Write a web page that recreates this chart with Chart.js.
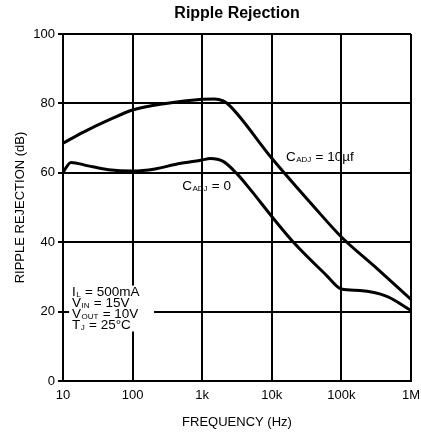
<!DOCTYPE html>
<html lang="en">

<head>
    <meta charset="UTF-8">
    <title>Ripple Rejection</title>
    <script src="https://cdn.jsdelivr.net/npm/chart.js"></script>
    <style>
        body { margin: 0; background: #fff; }
        #wrap { width: 421px; height: 435px; }
    </style>
</head>

<body>
    <div id="wrap">
        <canvas id="ripple" width="421" height="435"></canvas>
    </div>

    <script>
        // frequency ticks on the log axis and their labels
        var freqTicks = [10, 100, 1000, 10000, 100000, 1000000];
        var freqLabels = ['10', '100', '1k', '10k', '100k', '1M'];

        // C_ADJ = 10uF curve
        var freqAdj10 = [10, 20, 50, 100, 300, 1000, 1500, 2000, 2500, 10000, 40000, 100000, 300000, 1000000];
        var rejAdj10 = [68.5, 71.8, 75.6, 78.1, 80.0, 81.2, 81.3, 80.7, 79.3, 64.2, 50.3, 41.5, 33.0, 23.5];

        // C_ADJ = 0 curve
        var freqAdj0 = [10, 13, 23, 45, 100, 210, 450, 1000, 1300, 2000, 3100, 5000, 10000, 20000, 60000, 100000, 185000, 450000, 1000000];
        var rejAdj0 = [60.1, 63.0, 62.0, 60.9, 60.5, 61.1, 62.6, 63.7, 64.1, 63.3, 59.9, 55.0, 47.4, 40.2, 30.6, 26.5, 26.1, 24.4, 20.3];

        var FONT = '"Liberation Sans", Arial, Helvetica, sans-serif';

        function toPoints(xs, ys) {
            return xs.map(function (x, i) { return { x: x, y: ys[i] }; });
        }

        // draw a run of text pieces, some of them as small subscripts
        function drawParts(ctx, x, y, parts, size) {
            parts.forEach(function (p) {
                if (p[1]) {
                    ctx.font = '8px ' + FONT;
                    ctx.fillText(p[0], x + 0.5, y + 2.5);
                    x += ctx.measureText(p[0]).width + 1;
                } else {
                    ctx.font = size + 'px ' + FONT;
                    ctx.fillText(p[0], x, y);
                    x += ctx.measureText(p[0]).width;
                }
            });
        }

        var notesPlugin = {
            id: 'notes',
            afterDraw: function (chart) {
                var ctx = chart.ctx;
                var xs = chart.scales.x, ys = chart.scales.y;
                ctx.save();
                ctx.fillStyle = '#000';
                ctx.textBaseline = 'middle';
                ctx.textAlign = 'left';

                drawParts(ctx, xs.getPixelForValue(16000), ys.getPixelForValue(64.6),
                    [['C'], ['ADJ', 1], [' = 10µf']], 13.5);
                drawParts(ctx, xs.getPixelForValue(515), ys.getPixelForValue(56.0),
                    [['C'], ['ADJ', 1], [' = 0']], 13.5);

                // test conditions, on a white patch over the grid
                var bx = xs.getPixelForValue(13.5), by = ys.getPixelForValue(25.5);
                ctx.fillStyle = '#fff';
                ctx.fillRect(bx - 3, by - 7, 85, 46);
                ctx.fillStyle = '#000';
                var rows = [
                    [['I'], ['L', 1], [' = 500mA']],
                    [['V'], ['IN', 1], [' = 15V']],
                    [['V'], ['OUT', 1], [' = 10V']],
                    [['T'], ['J', 1], [' = 25°C']]
                ];
                rows.forEach(function (r, i) {
                    drawParts(ctx, bx, by + i * 11, r, 13.5);
                });
                ctx.restore();
            }
        };

        var ctx = document.getElementById('ripple').getContext('2d');
        var chart = new Chart(ctx, {
            type: 'line',
            data: {
                datasets: [{
                    label: 'CADJ = 10uF',
                    data: toPoints(freqAdj10, rejAdj10),
                    borderColor: '#000',
                    borderWidth: 3,
                    pointRadius: 0,
                    cubicInterpolationMode: 'monotone',
                    fill: false
                }, {
                    label: 'CADJ = 0',
                    data: toPoints(freqAdj0, rejAdj0),
                    borderColor: '#000',
                    borderWidth: 3,
                    pointRadius: 0,
                    cubicInterpolationMode: 'monotone',
                    fill: false
                }]
            },
            options: {
                responsive: false,
                animation: false,
                devicePixelRatio: 1,
                layout: { padding: { left: 0, right: 10, top: 0, bottom: 0 } },
                plugins: {
                    legend: { display: false },
                    tooltip: { enabled: false },
                    title: {
                        display: true,
                        text: 'Ripple Rejection',
                        fullSize: false,
                        color: '#000',
                        font: { family: FONT, size: 16, weight: 'bold' },
                        padding: { top: 4, bottom: 10.8 }
                    }
                },
                scales: {
                    x: {
                        type: 'logarithmic',
                        min: 10,
                        max: 1000000,
                        afterBuildTicks: function (scale) {
                            scale.ticks = freqTicks.map(function (v) { return { value: v }; });
                        },
                        afterFit: function (scale) {
                            scale.height = 54;
                            // keep the plot edge where the reference has it
                            scale.paddingLeft = 0;
                            scale.paddingRight = 0;
                        },
                        ticks: {
                            color: '#000',
                            font: { family: FONT, size: 13 },
                            padding: 7,
                            maxRotation: 0,
                            autoSkip: false,
                            callback: function (v) {
                                var i = freqTicks.indexOf(v);
                                return i >= 0 ? freqLabels[i] : '';
                            }
                        },
                        grid: { color: '#000', lineWidth: 2, drawTicks: false },
                        border: { color: '#000', width: 2 },
                        title: {
                            display: true,
                            text: 'FREQUENCY (Hz)',
                            color: '#000',
                            font: { family: FONT, size: 13 },
                            padding: { top: 0, bottom: 5 }
                        }
                    },
                    y: {
                        min: 0,
                        max: 100,
                        afterFit: function (scale) { scale.width = 63; },
                        ticks: {
                            stepSize: 20,
                            color: '#000',
                            font: { family: FONT, size: 13 },
                            padding: 3
                        },
                        grid: { color: '#000', lineWidth: 2, drawTicks: true, tickLength: 5 },
                        border: { color: '#000', width: 2 },
                        title: {
                            display: true,
                            text: 'RIPPLE REJECTION (dB)',
                            color: '#000',
                            font: { family: FONT, size: 13 },
                            padding: { top: 13, bottom: 0 }
                        }
                    }
                }
            },
            plugins: [notesPlugin]
        });
    </script>
</body>

</html>
